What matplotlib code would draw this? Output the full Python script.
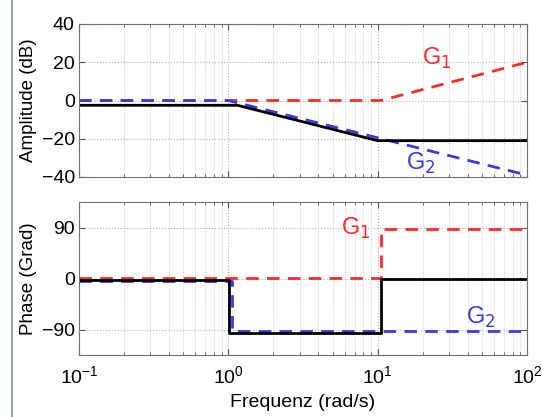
import matplotlib
matplotlib.use("Agg")
import matplotlib.pyplot as plt
from matplotlib.lines import Line2D
from matplotlib.ticker import LogLocator, NullFormatter

plt.rcParams["font.family"] = ["Liberation Sans", "DejaVu Sans"]

# Betragsgang (Asymptoten), leicht versetzt wie im Original
w_g1_amp = [0.1, 10.5, 100]
g1_amp = [0, 0, 20]
w_g2_amp = [0.1, 1.0, 100]
g2_amp = [0, 0, -39]
w_g_amp = [0.1, 1.15, 10.0, 100]
g_amp = [-2.5, -2.5, -21, -21]

# Phasengang
w_g1_ph = [0.1, 10.5, 10.5, 100]
g1_ph = [1.5, 1.5, 88, 88]
w_g2_ph = [0.1, 1.06, 1.06, 100]
g2_ph = [-5, -5, -92, -92]
w_g_ph = [0.1, 1.01, 1.01, 10.6, 10.6, 100]
g_ph = [-3, -3, -96, -96, -1, -1]

RED = "#ff2a2a"
BLUE = "#3a3adf"
DASH = (4.5, 3)

fig = plt.figure(figsize=(5.42, 4.17), dpi=100)
W, H = 542, 417
ax1 = fig.add_axes([79 / W, 1 - 177 / H, 448 / W, 153 / H])
ax2 = fig.add_axes([79 / W, 1 - 355 / H, 448 / W, 153 / H])

ax1.plot(w_g1_amp, g1_amp, "--", color=RED, lw=2, dashes=DASH)
ax1.plot(w_g2_amp, g2_amp, "--", color=BLUE, lw=2, dashes=DASH)
ax1.plot(w_g_amp, g_amp, "-", color="black", lw=2)
ax1.set_ylim(-40, 40)
ax1.set_yticks([-40, -20, 0, 20, 40])
ax1.set_ylabel("Amplitude (dB)", fontsize=13.5)
ax1.text(25, 22, "G$_1$", color=RED, fontsize=17, ha="center", va="center")
ax1.text(19.5, -33, "G$_2$", color=BLUE, fontsize=17, ha="center", va="center")

ax2.plot(w_g1_ph, g1_ph, "--", color=RED, lw=2, dashes=DASH)
ax2.plot(w_g2_ph, g2_ph, "--", color=BLUE, lw=2, dashes=DASH)
ax2.plot(w_g_ph, g_ph, "-", color="black", lw=2)
ax2.set_ylim(-135, 135)
ax2.set_yticks([-90, 0, 90])
ax2.set_ylabel("Phase (Grad)", fontsize=13.5)
ax2.set_xlabel("Frequenz (rad/s)", fontsize=14, labelpad=5)
ax2.text(7.1, 88, "G$_1$", color=RED, fontsize=17, ha="center", va="center")
ax2.text(49, -68, "G$_2$", color=BLUE, fontsize=17, ha="center", va="center")

for ax in (ax1, ax2):
    ax.set_xscale("log")
    ax.set_xlim(0.1, 100)
    ax.xaxis.set_minor_locator(LogLocator(base=10, subs=range(2, 10)))
    ax.xaxis.set_minor_formatter(NullFormatter())
    ax.grid(True, which="major", ls=":", color="#b0b0b0", lw=0.8)
    ax.grid(True, which="minor", axis="x", ls=":", color="#c8c8c8", lw=0.7)
    ax.tick_params(which="both", direction="in", top=True, right=True,
                   labelsize=14, color="#555555")
    ax.tick_params(which="major", length=4)
    ax.tick_params(which="minor", length=2)
    ax.tick_params(axis="x", which="major", pad=7)
    ax.tick_params(axis="y", which="major", pad=3)
    for s in ax.spines.values():
        s.set_color("#707070")
ax1.tick_params(labelbottom=False)
ax1.yaxis.set_label_coords(-0.093, 0.5)
ax2.yaxis.set_label_coords(-0.093, 0.5)

# Seitenrand links
fig.add_artist(Line2D([12 / W, 12 / W], [0, 1], color="#8090b0", lw=1.2))

fig.savefig("out.png", dpi=100)
